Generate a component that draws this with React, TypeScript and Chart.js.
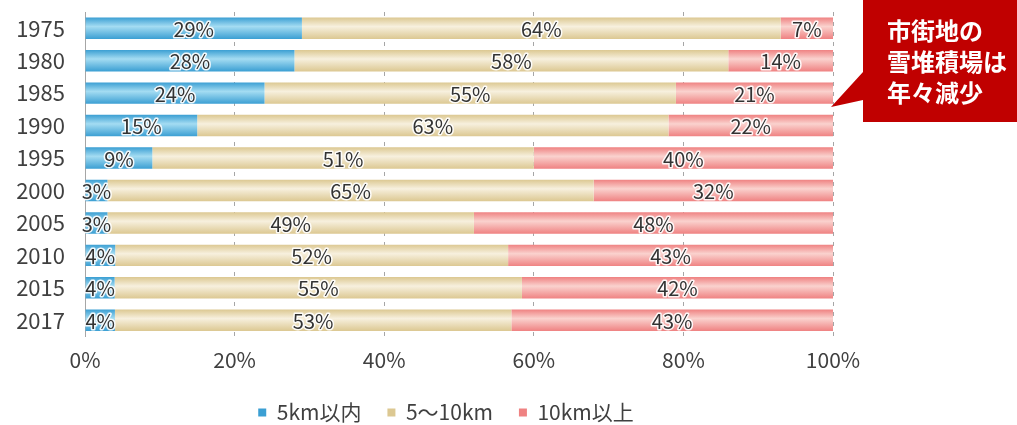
import React, { useEffect, useRef } from "react";
import { Chart, registerables } from "chart.js";

Chart.register(...registerables);

// Share of snow dumping sites by distance from the urban area (%)
const years = ["1975", "1980", "1985", "1990", "1995", "2000", "2005", "2010", "2015", "2017"];
const within5km = [29, 28, 24, 15, 9, 3, 3, 4, 4, 4];
const from5to10km = [64, 58, 55, 63, 51, 65, 49, 52, 55, 53];
const over10km = [7, 14, 21, 22, 40, 32, 48, 43, 42, 43];
const seriesNames = ["5km以内", "5～10km", "10km以上"];
const xTickValues = [0, 20, 40, 60, 80, 100];
const calloutLines = ["市街地の", "雪堆積場は", "年々減少"];

const FONT = '"Noto Sans CJK JP", "Noto Sans", sans-serif';
const TEXT = "#404040";
const CAT_PCT = 1;
const BAR_PCT = 0.66;

const seriesValues = [within5km, from5to10km, over10km];
// each year is drawn as a 100% stacked bar
const rowTotals = years.map((_, i) => seriesValues.reduce((s, arr) => s + arr[i], 0));
const toShare = (arr: number[]) => arr.map((v, i) => (v / rowTotals[i]) * 100);

// vertical shading: darker at the bar edges, light in the middle
function barGradient(edge: string, mid: string) {
  return (ctx: any) => {
    const chart = ctx.chart;
    const y = chart.scales && chart.scales.y;
    if (!y || ctx.type !== "data" || !chart.chartArea) return edge;
    const band = (y.bottom - y.top) / years.length;
    const thick = band * CAT_PCT * BAR_PCT;
    const yc = y.getPixelForValue(ctx.dataIndex);
    const g = chart.ctx.createLinearGradient(0, yc - thick / 2, 0, yc + thick / 2);
    g.addColorStop(0, edge);
    g.addColorStop(0.42, mid);
    g.addColorStop(1, edge);
    return g;
  };
}

const seriesColors = [
  { edge: "#3b9fd3", mid: "#a4dcf2" },
  { edge: "#dcc892", mid: "#f7f0de" },
  { edge: "#ef8282", mid: "#fad2ce" },
];

// percentage text centred on each segment with a white halo
const valueLabels = {
  id: "valueLabels",
  afterDatasetsDraw(chart: any) {
    const c = chart.ctx;
    c.save();
    c.font = `20px ${FONT}`;
    c.textAlign = "center";
    c.textBaseline = "middle";
    c.lineJoin = "round";
    chart.data.datasets.forEach((_: any, di: number) => {
      const meta = chart.getDatasetMeta(di);
      meta.data.forEach((bar: any, i: number) => {
        const { x, y, base } = bar.getProps(["x", "y", "base"], true);
        const cx = (x + base) / 2;
        const text = `${seriesValues[di][i]}%`;
        c.lineWidth = 3;
        c.strokeStyle = "rgba(255,255,255,0.9)";
        c.strokeText(text, cx, y + 1);
        c.fillStyle = "#333333";
        c.fillText(text, cx, y + 1);
      });
    });
    c.restore();
  },
};

export default function App() {
  const canvasRef = useRef<HTMLCanvasElement | null>(null);

  useEffect(() => {
    if (!canvasRef.current) return;
    const chart = new Chart(canvasRef.current, {
      type: "bar",
      data: {
        labels: years,
        datasets: seriesNames.map((name, di) => ({
          label: name,
          data: toShare(seriesValues[di]),
          backgroundColor: barGradient(seriesColors[di].edge, seriesColors[di].mid),
          borderWidth: 0,
          categoryPercentage: CAT_PCT,
          barPercentage: BAR_PCT,
        })),
      },
      options: {
        indexAxis: "y",
        responsive: false,
        animation: false,
        events: [],
        layout: { padding: { left: 0, right: 125, top: 12, bottom: -8 } },
        font: { family: FONT },
        scales: {
          x: {
            stacked: true,
            min: 0,
            max: 100,
            afterBuildTicks: (s: any) => {
              s.ticks = xTickValues.map((v) => ({ value: v }));
            },
            ticks: {
              callback: (v: any) => `${v}%`,
              font: { family: FONT, size: 21 },
              color: TEXT,
              padding: 11,
              maxRotation: 0,
            },
            grid: {
              drawTicks: false,
              color: (ctx: any) => (ctx.tick && ctx.tick.value === 0 ? "rgba(0,0,0,0)" : "#a6a6a6"),
              lineWidth: 1,
            },
            border: { display: false, dash: [4, 6] },
            afterFit: (s: any) => {
              s.height = 39.5;
              s.paddingLeft = 0;
              s.paddingRight = 0;
            },
          },
          y: {
            stacked: true,
            ticks: {
              font: { family: FONT, size: 22 },
              color: TEXT,
              padding: 20,
              autoSkip: false,
            },
            grid: { display: false, drawTicks: false },
            border: { display: true, color: "#a6a6a6", width: 1 },
            afterFit: (s: any) => {
              s.width = 85;
              s.paddingTop = 0;
              s.paddingBottom = 0;
            },
          },
          // empty right-hand gutter that keeps room for the callout
          gutter: {
            type: "category",
            position: "right",
            display: true,
            ticks: { display: false },
            grid: { display: false, drawTicks: false },
            border: { display: false },
            afterFit: (s: any) => {
              s.width = 59;
              s.paddingTop = 0;
              s.paddingBottom = 0;
            },
          },
        },
        plugins: {
          legend: {
            position: "bottom",
            labels: {
              boxWidth: 8,
              boxHeight: 8,
              padding: 26,
              color: TEXT,
              font: { family: FONT, size: 21 },
            },
          },
          tooltip: { enabled: false },
        },
      },
      plugins: [valueLabels],
    } as any);
    return () => chart.destroy();
  }, []);

  return (
    <div
      style={{
        position: "fixed",
        left: 0,
        top: 0,
        width: 1017,
        height: 425,
        background: "#ffffff",
        overflow: "hidden",
      }}
    >
      <canvas ref={canvasRef} width={1017} height={425} style={{ display: "block" }} />
      <div
        style={{
          position: "absolute",
          left: 831,
          top: 0,
          width: 186,
          height: 122,
          background: "#c00000",
          clipPath: "polygon(32px 0, 186px 0, 186px 122px, 32px 122px, 32px 100px, 0 107px, 32px 72px)",
        }}
      />
      <div
        style={{
          position: "absolute",
          left: 887,
          top: 14,
          color: "#ffffff",
          fontFamily: FONT,
          fontSize: 24,
          fontWeight: 700,
          lineHeight: "31px",
          whiteSpace: "nowrap",
        }}
      >
        {calloutLines.map((line) => (
          <div key={line}>{line}</div>
        ))}
      </div>
    </div>
  );
}
